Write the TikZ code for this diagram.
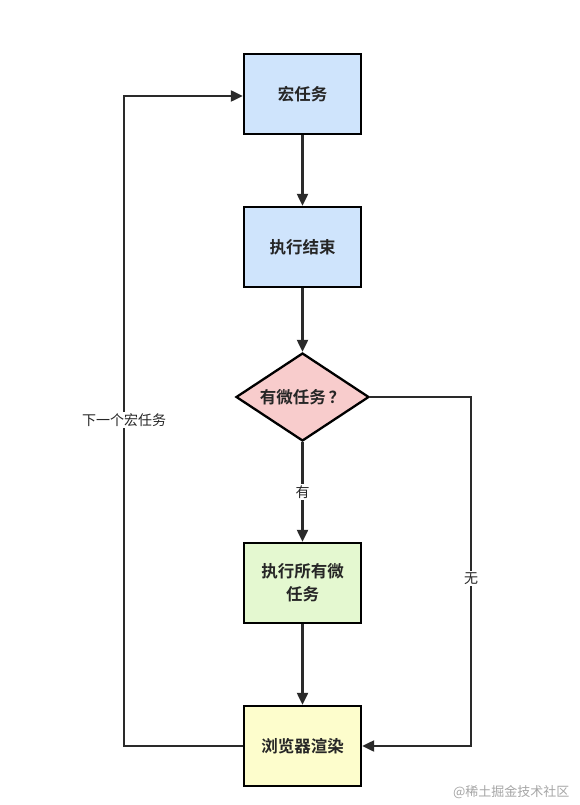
\documentclass[tikz,border=0pt]{standalone}
\usepackage{fontspec}
\newfontfamily\cjk{Noto Sans CJK SC}
\newfontfamily\cjkb{Noto Sans CJK SC Bold}
\usetikzlibrary{shapes.geometric,arrows.meta}
\definecolor{lineC}{HTML}{2A2A2A}
\definecolor{blueF}{HTML}{CFE4FC}
\definecolor{pinkF}{HTML}{F8CCCC}
\definecolor{greenF}{HTML}{E4F8D0}
\definecolor{yellowF}{HTML}{FDFDCC}
\begin{document}
\begin{tikzpicture}[x=1pt,y=-1pt,
  box/.style={draw=black,line width=2.3pt,minimum width=117pt,minimum height=80pt,inner sep=0pt,align=center,font=\cjkb\fontsize{16.5}{23}\selectfont,text=black!85},
  dia/.style={diamond,draw=black,line width=2.3pt,minimum width=133pt,minimum height=88pt,aspect=1.5,inner sep=0pt,font=\cjkb\fontsize{16.5}{22}\selectfont,text=black!85},
  conn/.style={draw=lineC,line width=2.1pt,-{Triangle[length=12pt,width=11pt]}},
  lbl/.style={fill=white,inner sep=1.5pt,font=\cjk\fontsize{14}{16}\selectfont,text=black!85}]
\useasboundingbox (0,0) rectangle (579,805);
\fill[white] (0,0) rectangle (579,805);
\node[box,fill=blueF] (a) at (302.5,94) {宏任务};
\node[box,fill=blueF] (b) at (302.5,247) {执行结束};
\node[dia,fill=pinkF] (c) at (302.5,397) {有微任务\,？};
\node[box,fill=greenF] (d) at (302.5,583) {执行所有微\\任务};
\node[box,fill=yellowF] (e) at (302.5,746) {浏览器渲染};
\coordinate (r1) at (471,397);
\coordinate (r2) at (471,746);
\coordinate (l1) at (124,746);
\coordinate (l2) at (124,96);
\draw[conn] (a) -- (b);
\draw[conn] (b) -- (c);
\draw[conn] (c) -- node[lbl,pos=0.5] {有} (d);
\draw[conn] (d) -- (e);
\draw[conn] (c.east) -- (r1) -- node[lbl,pos=0.52] {无} (r2) -- (e.east);
\draw[conn] (e.west) -- (l1) -- node[lbl,pos=0.501] {下一个宏任务} (l2) -- (l2 -| a.west);
\node[font=\cjk\fontsize{13}{15}\selectfont,text=black!35,anchor=east] (w) at (573,792) {@稀土掘金技术社区};
\end{tikzpicture}
\end{document}
